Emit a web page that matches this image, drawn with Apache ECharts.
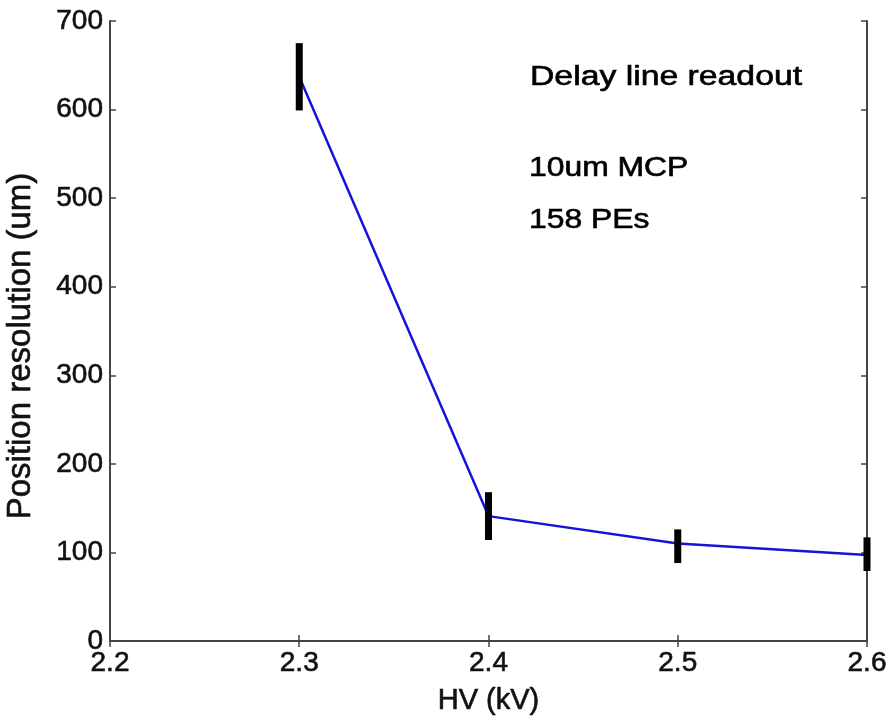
<!DOCTYPE html>
<html>
<head>
<meta charset="utf-8">
<script src="https://cdn.jsdelivr.net/npm/echarts@6/dist/echarts.min.js"></script>
<style>
  html, body { margin: 0; padding: 0; background: #fff; }
  #chart { width: 889px; height: 722px; }
</style>
</head>
<body>
<div id="chart"></div>
<script>
// data
const hv = [2.3, 2.4, 2.5, 2.6];
const resolution = [637, 141, 110, 97];
const errLow = [599, 114, 88, 79];
const errHigh = [675, 168, 126, 117];

const myChart = echarts.init(document.getElementById('chart'));

const font = 'Liberation Sans, Arial, sans-serif';
const axisLine = { show: true, lineStyle: { color: '#444', width: 2 } };
const tickIn = { show: true, inside: true, length: 6, lineStyle: { color: '#444', width: 1.5 } };
// a thin outline makes the text a bit heavier, like the original
const heavy = { textBorderColor: '#111', textBorderWidth: 0.6 };

const lineData = hv.map((x, i) => [x, resolution[i]]);
const errData = hv.map((x, i) => [x, errLow[i], errHigh[i]]);

const noteStyle = (txt) => ({
    text: txt, font: '27px ' + font, fill: '#000', verticalAlign: 'middle',
    stroke: '#000', lineWidth: 0.6
});

const option = {
    animation: false,
    backgroundColor: '#fff',
    grid: { left: 110, right: 22, top: 21, bottom: 81, containLabel: false, outerBoundsMode: 'none' },
    xAxis: [{
        type: 'value',
        min: 2.2,
        max: 2.6,
        interval: 0.1,
        name: 'HV (kV)',
        nameLocation: 'middle',
        nameGap: 45,
        nameTextStyle: Object.assign({ fontFamily: font, fontSize: 29, color: '#111' }, heavy),
        axisLine: axisLine,
        axisTick: tickIn,
        splitLine: { show: false },
        axisLabel: Object.assign({
            fontFamily: font, fontSize: 28, color: '#111', margin: 8,
            formatter: v => v.toFixed(1)
        }, heavy)
    }, {
        type: 'value', position: 'top', min: 2.2, max: 2.6, interval: 0.1,
        axisLine: axisLine, axisTick: tickIn, axisLabel: { show: false }, splitLine: { show: false }
    }],
    yAxis: [{
        type: 'value',
        min: 0,
        max: 700,
        interval: 100,
        name: 'Position resolution (um)',
        nameLocation: 'middle',
        nameGap: 73,
        nameTextStyle: Object.assign({ fontFamily: font, fontSize: 33, color: '#111', padding: [0, 30, 0, 0] }, heavy),
        axisLine: axisLine,
        axisTick: tickIn,
        splitLine: { show: false },
        axisLabel: Object.assign({ fontFamily: font, fontSize: 28, color: '#111', margin: 7 }, heavy)
    }, {
        type: 'value', position: 'right', min: 0, max: 700, interval: 100,
        axisLine: axisLine, axisTick: tickIn, axisLabel: { show: false }, splitLine: { show: false }
    }],
    graphic: [
        { type: 'text', x: 530, y: 78, scaleX: 1.25, style: noteStyle('Delay line readout') },
        { type: 'text', x: 529, y: 169, scaleX: 1.18, style: noteStyle('10um MCP') },
        { type: 'text', x: 529, y: 221, scaleX: 1.18, style: noteStyle('158 PEs') }
    ],
    series: [
        {
            type: 'line',
            data: lineData,
            symbol: 'none',
            lineStyle: { color: '#1414d8', width: 2.5 },
            z: 3
        },
        {
            type: 'custom',
            data: errData,
            z: 4,
            renderItem: function (params, api) {
                const lo = api.coord([api.value(0), api.value(1)]);
                const hi = api.coord([api.value(0), api.value(2)]);
                return {
                    type: 'line',
                    shape: { x1: lo[0], y1: lo[1], x2: hi[0], y2: hi[1] },
                    style: { stroke: '#000', lineWidth: 7 }
                };
            }
        }
    ]
};

myChart.setOption(option);
</script>
</body>
</html>
